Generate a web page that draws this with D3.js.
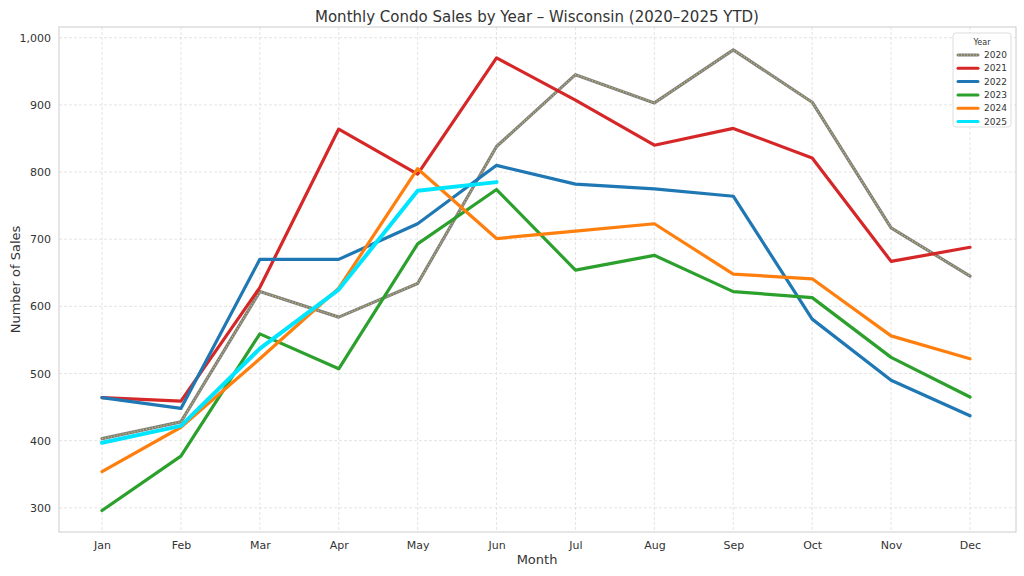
<!DOCTYPE html>
<html><head><meta charset="utf-8">
<script src="https://cdn.jsdelivr.net/npm/d3@7"></script>
<style>body{margin:0;background:#fff;font-family:"DejaVu Sans",sans-serif}</style>
</head><body><svg id="c" width="1024" height="576"></svg>
<script>
var months = ['Jan','Feb','Mar','Apr','May','Jun','Jul','Aug','Sep','Oct','Nov','Dec'];
var years = ['2020','2021','2022','2023','2024','2025'];
var colors = ['#808080','#d62728','#1f77b4','#2ca02c','#ff7f0e','#00e5ff'];
var s2020 = [403,428,622,584,634,838,945,903,982,904,717,645];
var s2021 = [464,459,628,864,797,970,907,840,865,821,667,688];
var s2022 = [464,448,670,670,723,810,782,775,764,581,490,437];
var s2023 = [296,377,559,507,693,774,654,676,622,613,524,465];
var s2024 = [354,420,522,627,805,701,712,723,648,641,556,522];
var s2025 = [397,422,537,625,772,785];
var yTicks = [300,400,500,600,700,800,900,1000];
var series = [s2020,s2021,s2022,s2023,s2024,s2025];

var svg = d3.select('#c');
var L = 59, R = 1016, T = 27, B = 532;
var x = d3.scalePoint().domain(months).range([102, 970]);
var y = d3.scaleLinear().domain([264, 1016]).range([B, T]);

// grid
svg.append('g').selectAll('line').data(yTicks).enter().append('line')
	.attr('x1', L).attr('x2', R).attr('y1', d => y(d)).attr('y2', d => y(d))
	.attr('stroke', '#ddd').attr('stroke-dasharray', '3,2').attr('stroke-width', 0.8);
svg.append('g').selectAll('line').data(months).enter().append('line')
	.attr('y1', T).attr('y2', B).attr('x1', d => x(d)).attr('x2', d => x(d))
	.attr('stroke', '#ddd').attr('stroke-dasharray', '3,2').attr('stroke-width', 0.8);
svg.append('rect').attr('x', L).attr('y', T).attr('width', R - L).attr('height', B - T)
	.attr('fill', 'none').attr('stroke', '#ccc');

var ya = svg.append('g').attr('transform', 'translate(' + L + ',0)')
	.call(d3.axisLeft(y).tickValues(yTicks).tickSize(0).tickPadding(8));
var xa = svg.append('g').attr('transform', 'translate(0,' + B + ')')
	.call(d3.axisBottom(x).tickSize(0).tickPadding(9));
[ya, xa].forEach(function(a){
	a.select('.domain').remove();
	a.selectAll('text').attr('fill', '#333').style('font-size', '11px').style('font-family', 'DejaVu Sans');
});

var line = d3.line().x((d, i) => x(months[i])).y(d => y(d));
series.forEach(function(s, k){
	svg.append('path').attr('d', line(s)).attr('fill', 'none')
		.attr('stroke', colors[k]).attr('stroke-width', k == 5 ? 4 : 3.2)
		.attr('stroke-linejoin', 'round').attr('stroke-linecap', 'round');
	if (k == 0) {
		svg.append('path').attr('d', line(s)).attr('fill', 'none')
			.attr('stroke', '#d4c84a').attr('stroke-width', 1.2).attr('stroke-dasharray', '1,2');
	}
});

svg.append('text').attr('x', 537).attr('y', 22).attr('text-anchor', 'middle')
	.style('font-size', '15px').attr('fill', '#333').text('Monthly Condo Sales by Year – Wisconsin (2020–2025 YTD)');
svg.append('text').attr('x', 537).attr('y', 564).attr('text-anchor', 'middle')
	.style('font-size', '13px').attr('fill', '#333').text('Month');
svg.append('text').attr('transform', 'translate(20,' + ((T + B) / 2) + ') rotate(-90)').attr('text-anchor', 'middle')
	.style('font-size', '13px').attr('fill', '#333').text('Number of Sales');

// legend
var lg = svg.append('g').attr('transform', 'translate(953,33)');
lg.append('rect').attr('width', 58).attr('height', 94).attr('rx', 3)
	.attr('fill', 'rgba(255,255,255,0.85)').attr('stroke', '#ddd');
lg.append('text').attr('x', 29).attr('y', 12).attr('text-anchor', 'middle')
	.style('font-size', '8px').attr('fill', '#333').text('Year');
years.forEach(function(yr, k){
	var yy = 22 + k * 13.3;
	lg.append('line').attr('x1', 5).attr('x2', 25).attr('y1', yy).attr('y2', yy)
		.attr('stroke', colors[k]).attr('stroke-width', 3).attr('stroke-linecap', 'round');
	if (k == 0) lg.append('line').attr('x1', 5).attr('x2', 25).attr('y1', yy).attr('y2', yy)
		.attr('stroke', '#d4c84a').attr('stroke-width', 1).attr('stroke-dasharray', '1,2');
	lg.append('text').attr('x', 31).attr('y', yy + 3).style('font-size', '9px').attr('fill', '#333').text(yr);
});
</script></body></html>
